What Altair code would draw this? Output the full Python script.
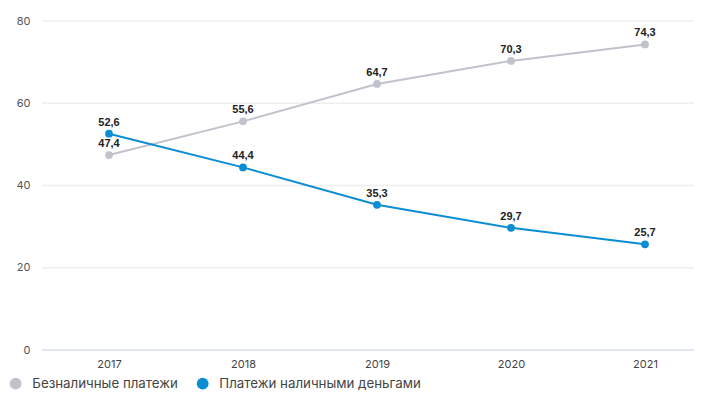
import altair as alt
import pandas as pd

years = ["2017", "2018", "2019", "2020", "2021"]
cashless = [47.4, 55.6, 64.7, 70.3, 74.3]
cash = [52.6, 44.4, 35.3, 29.7, 25.7]
series_names = ["Безналичные платежи", "Платежи наличными деньгами"]
colors = ["#c0c2cc", "#0b8dd3"]
y_ticks = [0, 20, 40, 60, 80]

rows = []
for y, v in zip(years, cashless):
    rows.append({"year": y, "value": v, "series": series_names[0], "label": f"{v:.1f}".replace(".", ",")})
for y, v in zip(years, cash):
    rows.append({"year": y, "value": v, "series": series_names[1], "label": f"{v:.1f}".replace(".", ",")})
df = pd.DataFrame(rows)

grid_df = pd.DataFrame({"value": y_ticks, "zero": [t == 0 for t in y_ticks]})

font = "Inter"
W = 652

x = alt.X("year:O", title=None, sort=years,
          scale=alt.Scale(type="point", range=[67, 603], padding=0),
          axis=alt.Axis(labelAngle=0, ticks=False, domain=False, labelColor="#444444",
                        labelFontSize=11, labelFont=font, labelPadding=8, grid=False))
y_scale = alt.Scale(domain=[0, 80])
y_axis = alt.Axis(values=y_ticks, ticks=False, domain=False, grid=False,
                  labelColor="#555555", labelFontSize=11, labelFont=font,
                  labelPadding=12)
y = alt.Y("value:Q", title=None, scale=y_scale, axis=y_axis)
color = alt.Color("series:N", sort=series_names,
                  scale=alt.Scale(domain=series_names, range=colors),
                  legend=alt.Legend(title=None, orient="none", direction="horizontal",
                                    legendX=-33, legendY=356, symbolType="circle",
                                    symbolSize=140, labelFontSize=13.3, labelFont=font,
                                    labelColor="#444444", columnPadding=18,
                                    labelOffset=10, labelLimit=400, symbolStrokeWidth=0))

grid = alt.Chart(grid_df).mark_rule(strokeWidth=1.5).encode(
    y=y,
    x=alt.value(0), x2=alt.value(W),
    color=alt.condition("datum.zero", alt.value("#d8def0"), alt.value("#eeeeee")),
)

base = alt.Chart(df)
lines = base.mark_line(strokeWidth=2).encode(x=x, y=y, color=color, detail="series:N")
points = base.mark_circle(size=60, opacity=1).encode(x=x, y=y, color=color)
labels = base.mark_text(dy=-11, fontWeight="bold", fontSize=11, font="Liberation Sans",
                        color="#222222").encode(x=x, y=y, text="label:N")

chart = alt.layer(grid, lines, points, labels).properties(
    width=W, height=329,
    autosize=alt.AutoSizeParams(type="none"),
    padding={"left": 34, "top": 13, "right": 0, "bottom": 43},
).configure_view(stroke=None)

chart.save("out.html", embed_options={"renderer": "svg", "actions": False})
